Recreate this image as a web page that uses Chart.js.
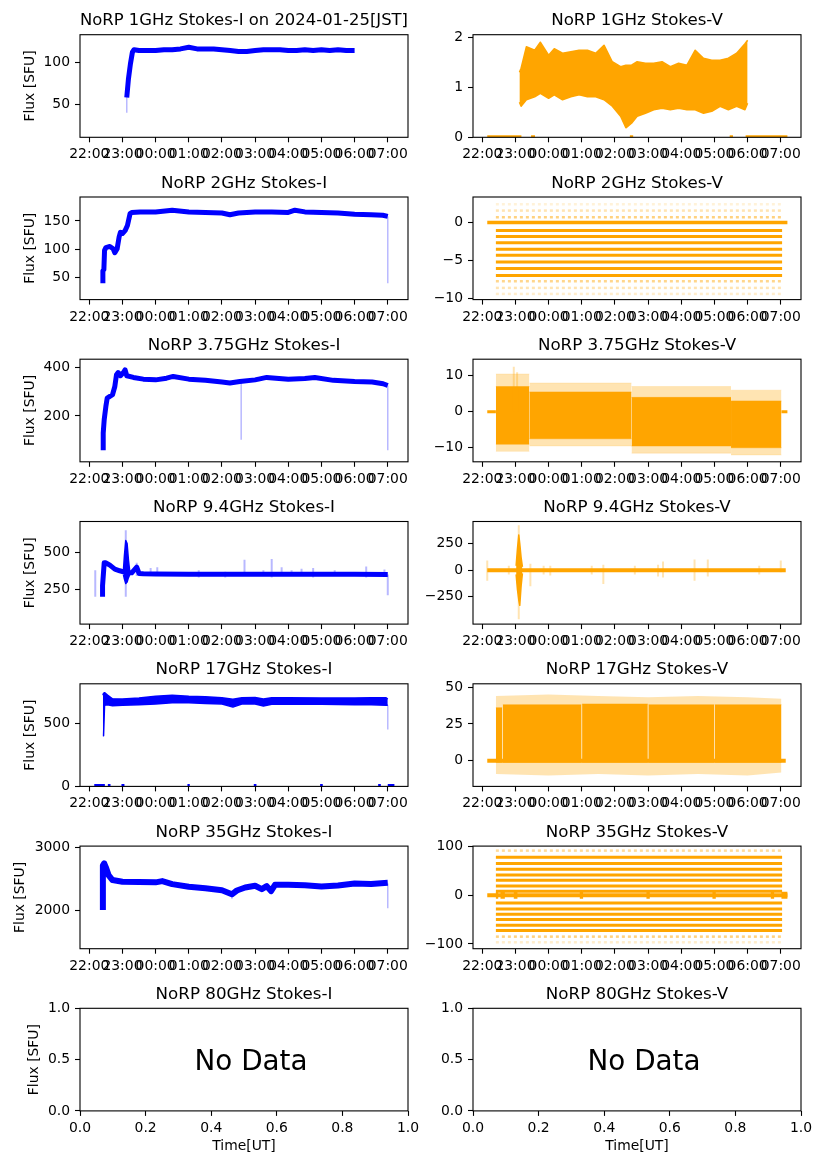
<!DOCTYPE html>
<html>
<head>
<meta charset="utf-8">
<title>NoRP 2024-01-25</title>
<script src="https://cdn.jsdelivr.net/npm/chart.js@4.4.1/dist/chart.umd.min.js"></script>
<style>
  html, body { margin: 0; padding: 0; background: #ffffff; }
  body { position: relative; width: 827px; height: 1169px; overflow: hidden; }
  canvas { position: absolute; }
</style>
</head>
<body>
<script>
/* ================= DATA ================= */
/* time axis (hours; 24 = 00:00 next day) */
const xTickValues = [22, 23, 24, 25, 26, 27, 28, 29, 30, 31];
const xTickLabels = ['22:00','23:00','00:00','01:00','02:00','03:00','04:00','05:00','06:00','07:00'];
const xRange = [21.72, 31.61];
const emptyXTickValues = [0, 0.2, 0.4, 0.6, 0.8, 1.0];
const emptyXTickLabels = ['0.0','0.2','0.4','0.6','0.8','1.0'];
const emptyYTickValues = [0, 0.5, 1.0];
const emptyYTickLabels = ['0.0','0.5','1.0'];

/* 1 GHz Stokes-I */
const i1T = [23.13, 23.18, 23.24, 23.3, 23.35, 23.5, 23.75, 24.0, 24.25, 24.5, 24.75, 25.0, 25.25, 25.5, 25.75, 26.0, 26.25, 26.5, 26.75, 27.0, 27.25, 27.5, 27.75, 28.0, 28.25, 28.5, 28.75, 29.0, 29.25, 29.5, 29.75, 30.0];
const i1V = [58, 80, 98, 112, 115, 114, 114, 114, 115, 115, 116, 118, 116, 116, 116, 115, 114, 113, 113, 114, 115, 115, 115, 114, 114, 115, 114, 115, 114, 115, 114, 114];
const i1DipT = [23.13], i1DipLo = [40], i1DipHi = [60];
const i1YTicks = [50, 100], i1YLabels = ['50', '100'];

/* 1 GHz Stokes-V */
const v1T  = [23.12, 23.17, 23.33, 23.58, 23.75, 24.0, 24.17, 24.42, 24.67, 24.92, 25.17, 25.42, 25.67, 25.92, 26.17, 26.33, 26.5, 26.67, 26.92, 27.17, 27.42, 27.67, 27.92, 28.17, 28.42, 28.67, 28.92, 29.17, 29.42, 29.67, 29.92, 30.0];
const v1Hi = [1.3, 1.38, 1.81, 1.74, 1.9, 1.64, 1.77, 1.68, 1.71, 1.74, 1.74, 1.68, 1.84, 1.51, 1.41, 1.44, 1.44, 1.51, 1.48, 1.48, 1.51, 1.41, 1.48, 1.44, 1.74, 1.58, 1.54, 1.54, 1.58, 1.68, 1.87, 1.94];
const v1Lo = [0.7, 0.62, 0.75, 0.81, 0.88, 0.78, 0.85, 0.75, 0.81, 0.85, 0.81, 0.81, 0.75, 0.62, 0.42, 0.19, 0.28, 0.42, 0.48, 0.55, 0.58, 0.55, 0.58, 0.55, 0.55, 0.48, 0.52, 0.62, 0.55, 0.62, 0.55, 0.68];
const v1ZeroStart = [22.15, 23.47, 26.45, 29.46, 29.94];
const v1ZeroEnd   = [23.18, 23.59, 26.55, 29.56, 31.2];
const v1ZeroLevel = [0, 0, 0, 0, 0];
const v1YTicks = [0, 1, 2], v1YLabels = ['0', '1', '2'];

/* 2 GHz Stokes-I */
const i2T = [22.41, 22.41, 22.44, 22.46, 22.5, 22.62, 22.72, 22.77, 22.84, 22.9, 22.94, 23.0, 23.08, 23.15, 23.23, 23.28, 23.53, 24.0, 24.5, 25.0, 25.5, 26.0, 26.24, 26.5, 27.0, 27.5, 28.0, 28.2, 28.5, 29.0, 29.5, 30.0, 30.5, 30.85, 31.0];
const i2V = [40, 62, 64, 98, 103, 105, 101, 94, 101, 122, 130, 128, 133, 142, 163, 165, 166, 166, 169, 166, 165, 164, 161, 164, 166, 166, 165, 169, 166, 165, 164, 162, 161, 160, 158];
const i2DipT = [31.0], i2DipLo = [40], i2DipHi = [158];
const i2YTicks = [50, 100, 150], i2YLabels = ['50', '100', '150'];

/* 2 GHz Stokes-V (quantised levels) */
const v2StrongLevels = [-1.06, -1.85, -2.65, -3.53, -4.32, -5.2, -6.08, -7.0];
const v2FaintLevels  = [2.43, 1.59, 0.71, -7.76, -8.64, -9.44];
const v2FaintAlpha   = [0.15, 0.3, 0.5, 0.45, 0.3, 0.2];
const v2Span = [22.41, 31.04];
const v2ZeroSpan = [22.15, 31.2];
const v2YTicks = [-10, -5, 0], v2YLabels = ['\u221210', '\u22125', '0'];

/* 3.75 GHz Stokes-I */
const i3T = [22.42, 22.42, 22.45, 22.5, 22.54, 22.62, 22.7, 22.77, 22.82, 22.87, 22.94, 23.03, 23.08, 23.13, 23.33, 23.63, 24.0, 24.33, 24.53, 25.0, 25.5, 26.0, 26.24, 26.54, 27.0, 27.35, 28.0, 28.5, 28.8, 29.36, 30.0, 30.53, 30.86, 31.0];
const i3V = [60, 130, 185, 239, 273, 280, 287, 321, 369, 378, 365, 378, 389, 365, 358, 351, 348, 355, 362, 351, 346, 339, 335, 341, 348, 358, 351, 354, 358, 346, 341, 339, 332, 325];
const i3DipT = [26.58, 31.0], i3DipLo = [103, 60], i3DipHi = [340, 325];
const i3YTicks = [200, 400], i3YLabels = ['200', '400'];

/* 3.75 GHz Stokes-V */
const v3SegStart = [22.41, 23.42, 26.5, 29.5];
const v3SegEnd   = [23.42, 26.5, 29.5, 31.02];
const v3CoreHi = [7, 5.5, 4, 3];
const v3CoreLo = [-9, -7.5, -9.5, -10];
const v3HaloHi = [10.5, 8, 7, 6];
const v3HaloLo = [-11, -9.5, -11.5, -12];
const v3SpikeT = [22.95, 23.05], v3SpikeLo = [0, 0], v3SpikeHi = [12.5, 11];
const v3ZeroStart = [22.15, 31.02], v3ZeroEnd = [22.41, 31.2], v3ZeroLevel = [0, 0];
const v3YTicks = [-10, 0, 10], v3YLabels = ['\u221210', '0', '10'];

/* 9.4 GHz Stokes-I */
const i9T = [22.4, 22.4, 22.45, 22.5, 22.62, 22.77, 22.92, 23.03, 23.2, 23.28, 23.43, 23.5, 23.63, 24.0, 25.0, 26.0, 27.0, 28.0, 29.0, 30.0, 31.0];
const i9V = [200, 275, 430, 430, 414, 387, 376, 369, 362, 362, 400, 358, 356, 354, 352, 352, 352, 352, 352, 352, 350];
const i9FlareT  = [23.03, 23.06, 23.1, 23.14, 23.18, 23.22];
const i9FlareHi = [380, 480, 580, 560, 450, 370];
const i9FlareLo = [350, 320, 290, 300, 330, 350];
const i9SpikeT  = [22.18, 23.1, 23.43, 23.85, 24.05, 25.3, 26.1, 26.68, 27.25, 27.5, 27.8, 28.1, 28.4, 28.75, 29.4, 30.35, 30.9, 31.0];
const i9SpikeLo = [200, 200, 340, 340, 340, 330, 330, 340, 340, 330, 340, 340, 340, 330, 340, 330, 340, 210];
const i9SpikeHi = [380, 650, 430, 395, 400, 380, 370, 450, 380, 455, 400, 380, 390, 395, 380, 405, 385, 350];
const i9YTicks = [250, 500], i9YLabels = ['250', '500'];

/* 9.4 GHz Stokes-V */
const v9Zero = [22.15, 31.15];
const v9FlareT  = [23.02, 23.06, 23.1, 23.13, 23.17, 23.21];
const v9FlareHi = [40, 200, 330, 250, 120, 30];
const v9FlareLo = [-40, -180, -280, -330, -150, -30];
const v9SpikeT  = [22.15, 22.8, 23.1, 23.45, 23.85, 24.05, 25.3, 25.65, 26.6, 27.3, 27.45, 28.4, 28.8, 30.35, 31.0];
const v9SpikeLo = [-100, -40, -460, -150, -40, -50, -40, -130, -40, -60, -70, -100, -60, -40, -20];
const v9SpikeHi = [90, 40, 420, 60, 40, 40, 40, 50, 40, 50, 80, 100, 100, 40, 90];
const v9YTicks = [-250, 0, 250], v9YLabels = ['\u2212250', '0', '250'];

/* 17 GHz Stokes-I */
const i17T  = [22.41, 22.43, 22.46, 22.55, 22.7, 23.0, 23.5, 24.0, 24.5, 25.0, 25.5, 26.0, 26.33, 26.6, 27.0, 27.25, 27.5, 28.0, 29.0, 30.0, 30.5, 30.95, 31.0];
const i17Hi = [720, 735, 740, 721, 692, 690, 697, 711, 720, 712, 708, 700, 688, 700, 702, 690, 700, 700, 698, 698, 700, 700, 690];
const i17Lo = [400, 400, 640, 645, 637, 640, 645, 650, 660, 660, 655, 650, 626, 650, 650, 635, 648, 650, 648, 645, 645, 640, 640];
const i17DipT = [31.0], i17DipLo = [450], i17DipHi = [640];
const i17ZeroStart = [22.15, 22.56, 22.97, 24.96, 26.96, 28.96, 30.71, 31.0];
const i17ZeroEnd   = [22.47, 22.64, 23.06, 25.03, 27.04, 29.04, 30.79, 31.2];
const i17ZeroLevel = [0, 0, 0, 0, 0, 0, 0, 0];
const i17YTicks = [0, 500], i17YLabels = ['0', '500'];

/* 17 GHz Stokes-V */
const v17SegStart = [22.41, 22.62, 25.01, 27.01, 29.01];
const v17SegEnd   = [22.6, 24.99, 26.99, 28.99, 31.02];
const v17CoreHi = [36, 38, 38.5, 38, 38];
const v17CoreLo = [-1, -1, -1, -1, -1];
const v17HaloT  = [22.41, 24.0, 25.5, 27.0, 28.5, 30.0, 31.02];
const v17HaloHi = [44, 45, 44, 43, 44, 43, 42];
const v17HaloLo = [-9, -10, -9, -10, -9, -10, -8];
const v17Zero = [22.15, 31.15];
const v17YTicks = [0, 25, 50], v17YLabels = ['0', '25', '50'];

/* 35 GHz Stokes-I */
const i35T = [22.41, 22.41, 22.45, 22.5, 22.58, 22.7, 23.0, 23.5, 24.0, 24.2, 24.5, 25.0, 25.5, 26.0, 26.3, 26.45, 26.7, 27.0, 27.2, 27.35, 27.48, 27.6, 28.0, 28.5, 29.0, 29.5, 30.0, 30.5, 31.0];
const i35V = [2000, 2706, 2743, 2679, 2556, 2476, 2449, 2445, 2440, 2460, 2412, 2369, 2347, 2315, 2250, 2310, 2358, 2385, 2332, 2380, 2300, 2400, 2400, 2395, 2375, 2390, 2420, 2415, 2433];
const i35DipT = [26.3, 31.0], i35DipLo = [2180, 2030], i35DipHi = [2250, 2420];
const i35YTicks = [2000, 3000], i35YLabels = ['2000', '3000'];

/* 35 GHz Stokes-V (quantised levels) */
const v35StrongLevels = [78.1, 65.1, 53.4, 41.8, 30.8, 19.2, 8.2, -15.8, -28.1, -39.0, -50.0, -61.6, -72.6];
const v35FaintLevels  = [91.8, -85.0, -96.6];
const v35FaintAlpha   = [0.4, 0.5, 0.2];
const v35Span = [22.41, 31.04];
const v35ZeroSpan = [22.15, 31.2];
const v35MarkStart = [22.41, 22.55, 22.95, 24.94, 26.95, 28.94, 30.7, 31.02];
const v35MarkEnd   = [22.48, 22.68, 23.06, 25.04, 27.05, 29.04, 30.8, 31.2];
const v35MarkLevel = [0, 0, 0, 0, 0, 0, 0, 0];
const v35YTicks = [-100, 0, 100], v35YLabels = ['\u2212100', '0', '100'];

/* ================= RENDERING ================= */
const BLUE = '#0000ff', ORANGE = '#ffa500';
const BLUE_F = 'rgba(0,0,255,0.28)', ORANGE_F = 'rgba(255,165,0,0.3)';
const FONT = 'DejaVu Sans';
const ROW_TOP = [34.7, 197.0, 359.2, 521.5, 683.8, 846.1, 1008.3];
const PLOT_H = 102.6;
const YLABEL_PAD = [21.7, 21.7, 21.7, 21.7, 21.7, 12.4, 26];
Chart.defaults.font.family = FONT;
Chart.defaults.color = '#000';

function P(t, v) { return t.map((x, i) => ({x: x, y: v[i]})); }
function hsegs(t0, t1, y) { const o = []; for (let i = 0; i < y.length; i++) { o.push({x: t0[i], y: y[i]}, {x: t1[i], y: y[i]}, {x: t1[i], y: null}); } return o; }
function vsegs(t, lo, hi) { const o = []; for (let i = 0; i < t.length; i++) { o.push({x: t[i], y: lo[i]}, {x: t[i], y: hi[i]}, {x: t[i], y: null}); } return o; }
function ln(data, color, width, extra) {
  return Object.assign({data: data, borderColor: color, backgroundColor: color, borderWidth: width,
    pointRadius: 0, pointHoverRadius: 0, fill: false, tension: 0, spanGaps: false, clip: 0,
    borderCapStyle: 'butt', borderJoinStyle: 'round'}, extra || {});
}
function band(t, hi, lo, color, edge) {
  return [ln(P(t, hi), color, edge), ln(P(t, lo), color, edge, {fill: '-1'})];
}
function rects(t0, t1, hi, lo, color) {
  let o = [];
  for (let i = 0; i < t0.length; i++) o = o.concat(band([t0[i], t1[i]], [hi[i], hi[i]], [lo[i], lo[i]], color, 0.5));
  return o;
}
function levelLines(levels, span, color, width, extra) {
  return ln(hsegs(levels.map(() => span[0]), levels.map(() => span[1]), levels), color, width, extra);
}

const framePlugin = {
  id: 'frame',
  afterDraw(chart, args, opts) {
    const a = chart.chartArea, ctx = chart.ctx;
    ctx.save();
    if (opts && opts.text) {
      ctx.fillStyle = '#000';
      ctx.font = '27.8px "DejaVu Sans"';
      ctx.textAlign = 'center';
      ctx.textBaseline = 'alphabetic';
      ctx.fillText(opts.text, (a.left + a.right) / 2 + 7, a.top + 61.7);
    }
    ctx.strokeStyle = '#000';
    ctx.lineWidth = 1.1;
    ctx.strokeRect(a.left, a.top, a.right - a.left, a.bottom - a.top);
    ctx.restore();
  }
};

function makeChart(s) {
  const cTop = Math.round(ROW_TOP[s.row] - 35);
  const titleH = ROW_TOP[s.row] - cTop;
  const cLeft = s.col === 0 ? 0 : 393;
  const W = s.col === 0 ? 440 : 434;
  const H = s.row === 6 ? 1169 - cTop : 168;
  const xAxisH = H - titleH - PLOT_H;
  const cv = document.createElement('canvas');
  cv.width = W; cv.height = H;
  cv.style.left = cLeft + 'px'; cv.style.top = cTop + 'px';
  cv.style.width = W + 'px'; cv.style.height = H + 'px';
  document.body.appendChild(cv);
  const xv = s.xTicks || xTickValues, xl = s.xLabels || xTickLabels, xr = s.xRange || xRange;
  const tickFont = {family: FONT, size: 13.9};
  const grid = {display: true, drawOnChartArea: false, drawTicks: true, tickLength: 5, tickWidth: 1.1, tickColor: '#000', color: '#000'};
  return new Chart(cv, {
    type: 'line',
    data: {datasets: s.datasets || []},
    plugins: [framePlugin],
    options: {
      responsive: false, animation: false, events: [],
      layout: {padding: {left: 0, top: 0, right: W - 80 - 328, bottom: 0}},
      plugins: {
        legend: {display: false},
        tooltip: {enabled: false},
        title: {display: true, text: s.title, fullSize: false, color: '#000',
          font: {family: FONT, size: 16.7, weight: 'normal'},
          padding: {top: titleH - 23.84, bottom: 3.8}},
        frame: {text: s.noData || ''}
      },
      scales: {
        x: {type: 'linear', min: xr[0], max: xr[1],
          afterBuildTicks: sc => { sc.ticks = xv.map(v => ({value: v})); },
          afterFit: sc => { sc.height = xAxisH; },
          ticks: {autoSkip: false, maxRotation: 0, minRotation: 0, padding: 4, color: '#000', font: tickFont,
            callback: (v, i) => xl[i]},
          grid: grid, border: {display: false},
          title: {display: !!s.xTitle, text: s.xTitle || '', color: '#000', font: tickFont, padding: {top: 0, bottom: 14.2}}
        },
        y: {type: 'linear', min: s.y[0], max: s.y[1],
          afterBuildTicks: sc => { sc.ticks = s.yTicks.map(v => ({value: v})); },
          afterFit: sc => { sc.width = 80; },
          ticks: {autoSkip: false, padding: 5, color: '#000', font: tickFont,
            callback: (v, i) => s.yLabels[i]},
          grid: grid, border: {display: false},
          title: {display: !!s.yTitle, text: s.yTitle || '', color: '#000', font: tickFont,
            padding: {top: YLABEL_PAD[s.row], bottom: 0}}
        }
      }
    }
  });
}

const FLUX = 'Flux [SFU]';

/* Row 0: 1 GHz */
makeChart({col: 0, row: 0, title: 'NoRP 1GHz Stokes-I on 2024-01-25[JST]', yTitle: FLUX,
  y: [10.7, 132.9], yTicks: i1YTicks, yLabels: i1YLabels,
  datasets: [ln(vsegs(i1DipT, i1DipLo, i1DipHi), BLUE_F, 1.5), ln(P(i1T, i1V), BLUE, 5)]});
makeChart({col: 1, row: 0, title: 'NoRP 1GHz Stokes-V',
  y: [0, 2.05], yTicks: v1YTicks, yLabels: v1YLabels,
  datasets: [...band(v1T, v1Hi, v1Lo, ORANGE, 1.5), ln(hsegs(v1ZeroStart, v1ZeroEnd, v1ZeroLevel), ORANGE, 4)]});

/* Row 1: 2 GHz */
makeChart({col: 0, row: 1, title: 'NoRP 2GHz Stokes-I', yTitle: FLUX,
  y: [11.2, 192.3], yTicks: i2YTicks, yLabels: i2YLabels,
  datasets: [ln(vsegs(i2DipT, i2DipLo, i2DipHi), BLUE_F, 1.5), ln(P(i2T, i2V), BLUE, 5)]});
makeChart({col: 1, row: 1, title: 'NoRP 2GHz Stokes-V',
  y: [-10.19, 3.39], yTicks: v2YTicks, yLabels: v2YLabels,
  datasets: [
    ...v2FaintLevels.map((lv, i) => levelLines([lv], v2Span, 'rgba(255,165,0,' + v2FaintAlpha[i] + ')', 2.5, {borderDash: [3, 3]})),
    levelLines(v2StrongLevels, v2Span, ORANGE, 3),
    levelLines([0], v2ZeroSpan, ORANGE, 3.5)
  ]});

/* Row 2: 3.75 GHz */
makeChart({col: 0, row: 2, title: 'NoRP 3.75GHz Stokes-I', yTitle: FLUX,
  y: [12.2, 432.7], yTicks: i3YTicks, yLabels: i3YLabels,
  datasets: [ln(vsegs(i3DipT, i3DipLo, i3DipHi), BLUE_F, 1.5), ln(P(i3T, i3V), BLUE, 5)]});
makeChart({col: 1, row: 2, title: 'NoRP 3.75GHz Stokes-V',
  y: [-13.9, 14.6], yTicks: v3YTicks, yLabels: v3YLabels,
  datasets: [
    ...rects(v3SegStart, v3SegEnd, v3HaloHi, v3HaloLo, ORANGE_F),
    ln(vsegs(v3SpikeT, v3SpikeLo, v3SpikeHi), ORANGE_F, 2),
    ...rects(v3SegStart, v3SegEnd, v3CoreHi, v3CoreLo, ORANGE),
    ln(hsegs(v3ZeroStart, v3ZeroEnd, v3ZeroLevel), ORANGE, 3)
  ]});

/* Row 3: 9.4 GHz */
makeChart({col: 0, row: 3, title: 'NoRP 9.4GHz Stokes-I', yTitle: FLUX,
  y: [15.5, 709], yTicks: i9YTicks, yLabels: i9YLabels,
  datasets: [
    ln(vsegs(i9SpikeT, i9SpikeLo, i9SpikeHi), BLUE_F, 2),
    ...band(i9FlareT, i9FlareHi, i9FlareLo, BLUE, 1.5),
    ln(P(i9T, i9V), BLUE, 5)
  ]});
makeChart({col: 1, row: 3, title: 'NoRP 9.4GHz Stokes-V',
  y: [-506, 456], yTicks: v9YTicks, yLabels: v9YLabels,
  datasets: [
    ln(vsegs(v9SpikeT, v9SpikeLo, v9SpikeHi), ORANGE_F, 2),
    ...band(v9FlareT, v9FlareHi, v9FlareLo, ORANGE, 1.5),
    ln(P(v9Zero, [0, 0]), ORANGE, 4)
  ]});

/* Row 4: 17 GHz */
makeChart({col: 0, row: 4, title: 'NoRP 17GHz Stokes-I', yTitle: FLUX,
  y: [0, 810], yTicks: i17YTicks, yLabels: i17YLabels,
  datasets: [
    ln(vsegs(i17DipT, i17DipLo, i17DipHi), BLUE_F, 1.5),
    ...band(i17T, i17Hi, i17Lo, BLUE, 1.5),
    ln(hsegs(i17ZeroStart, i17ZeroEnd, i17ZeroLevel), BLUE, 5)
  ]});
makeChart({col: 1, row: 4, title: 'NoRP 17GHz Stokes-V',
  y: [-17.4, 52.2], yTicks: v17YTicks, yLabels: v17YLabels,
  datasets: [
    ...band(v17HaloT, v17HaloHi, v17HaloLo, ORANGE_F, 0),
    ...rects(v17SegStart, v17SegEnd, v17CoreHi, v17CoreLo, ORANGE),
    ln(P(v17Zero, [0, 0]), ORANGE, 4)
  ]});

/* Row 5: 35 GHz */
makeChart({col: 0, row: 5, title: 'NoRP 35GHz Stokes-I', yTitle: FLUX,
  y: [1385, 3016], yTicks: i35YTicks, yLabels: i35YLabels,
  datasets: [ln(vsegs(i35DipT, i35DipLo, i35DipHi), BLUE_F, 1.5), ln(P(i35T, i35V), BLUE, 6)]});
makeChart({col: 1, row: 5, title: 'NoRP 35GHz Stokes-V',
  y: [-109.8, 101.1], yTicks: v35YTicks, yLabels: v35YLabels,
  datasets: [
    ...v35FaintLevels.map((lv, i) => levelLines([lv], v35Span, 'rgba(255,165,0,' + v35FaintAlpha[i] + ')', 2.5, {borderDash: [3, 3]})),
    levelLines(v35StrongLevels, v35Span, ORANGE, 3),
    levelLines([0], v35ZeroSpan, ORANGE, 4),
    ln(hsegs(v35MarkStart, v35MarkEnd, v35MarkLevel), ORANGE, 7)
  ]});

/* Row 6: 80 GHz (no data) */
makeChart({col: 0, row: 6, title: 'NoRP 80GHz Stokes-I', yTitle: FLUX, xTitle: 'Time[UT]', noData: 'No Data',
  xRange: [0, 1], xTicks: emptyXTickValues, xLabels: emptyXTickLabels,
  y: [0, 1], yTicks: emptyYTickValues, yLabels: emptyYTickLabels, datasets: []});
makeChart({col: 1, row: 6, title: 'NoRP 80GHz Stokes-V', xTitle: 'Time[UT]', noData: 'No Data',
  xRange: [0, 1], xTicks: emptyXTickValues, xLabels: emptyXTickLabels,
  y: [0, 1], yTicks: emptyYTickValues, yLabels: emptyYTickLabels, datasets: []});
</script>
</body>
</html>
